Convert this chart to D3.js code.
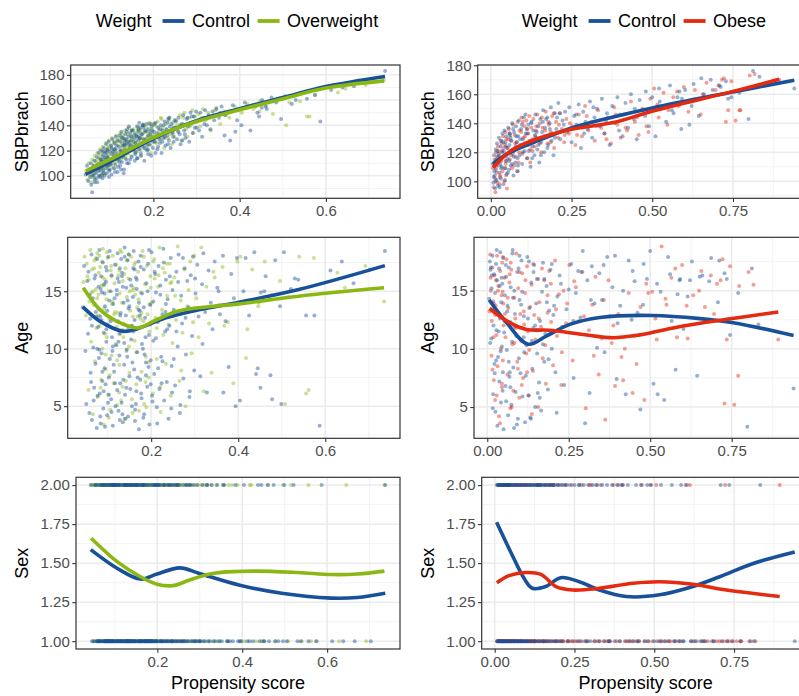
<!DOCTYPE html>
<html>
<head>
<meta charset="utf-8">
<script src="https://cdn.jsdelivr.net/npm/d3@7"></script>
<style>
  body { margin: 0; background: #ffffff; }
  svg { display: block; }
  text { font-family: "Liberation Sans", Arial, Helvetica, sans-serif; }
</style>
</head>
<body>
<svg id="chart" width="799" height="696"></svg>
<script>
// Each subject: [propensity score, SBPbrach, Age, Sex]

// Left column: Control vs Overweight
const leftControl = [
  [0.043,101,13.6,2],[0.046,108,17.2,1],[0.049,96,9.8,1],[0.051,103,5.2,2],[0.053,99,15.9,1],[0.055,110,11.3,2],
  [0.056,93,16.7,2],[0.058,87,4.4,1],[0.060,105,12.6,1],[0.061,100,7.9,2],[0.063,112,18.2,1],[0.064,97,3.8,1],
  [0.066,107,14.4,2],[0.067,102,10.1,1],[0.069,115,6.6,2],[0.070,95,16.1,1],[0.072,109,8.7,1],[0.073,118,13.2,2],
  [0.075,104,3.1,1],[0.076,99,17.8,2],[0.077,113,5.9,1],[0.078,106,11.9,1],[0.079,120,15.4,2],[0.080,101,9.2,1],
  [0.081,111,18.6,2],[0.082,98,6.1,1],[0.083,116,12.8,1],[0.084,104,3.5,2],[0.085,122,16.3,1],[0.086,109,9.6,2],
  [0.087,100,14.9,1],[0.088,118,7.2,1],[0.089,113,17.5,2],[0.090,106,4.8,1],[0.091,125,11.4,2],[0.092,102,15.6,1],
  [0.093,115,8.3,1],[0.094,120,13.7,2],[0.095,108,6.9,1],[0.096,127,17.1,2],[0.097,112,10.6,1],[0.098,104,16.8,2],
  [0.099,119,4.2,1],[0.100,110,12.1,1],[0.102,124,18.0,2],[0.103,101,7.5,1],[0.104,117,14.2,2],[0.105,129,9.1,1],
  [0.107,113,15.0,1],[0.108,106,5.6,2],[0.109,121,16.4,1],[0.110,126,11.0,2],[0.112,109,3.3,1],[0.113,131,13.9,2],
  [0.115,118,8.0,1],[0.117,103,17.3,1],
  [0.120,123,10.3,2],[0.121,114,14.7,1],[0.122,132,6.4,1],[0.123,108,18.3,2],[0.124,127,12.4,1],[0.125,119,4.6,2],
  [0.126,135,15.8,1],[0.127,111,9.4,1],[0.128,124,17.0,2],[0.129,130,7.0,1],[0.130,116,13.1,2],[0.132,105,5.3,1],
  [0.133,128,16.6,1],[0.134,121,11.6,2],[0.135,133,3.6,1],[0.137,113,14.0,2],[0.138,126,8.6,1],[0.139,137,18.8,1],
  [0.140,118,6.0,2],[0.142,131,12.9,1],[0.143,110,15.3,2],[0.144,125,9.9,1],[0.146,134,17.7,2],[0.147,120,4.1,1],
  [0.148,128,13.5,1],[0.150,115,7.6,2],[0.152,136,16.0,1],[0.154,123,10.8,2],[0.156,130,5.0,1],[0.158,117,14.5,1],
  [0.160,132,18.5,2],[0.161,124,8.2,1],[0.162,139,12.5,1],[0.163,114,4.7,2],[0.165,128,16.2,1],[0.166,135,6.3,2],
  [0.167,121,15.2,1],[0.168,130,9.7,1],[0.170,138,11.8,2],[0.171,118,17.6,1],[0.172,126,3.0,2],[0.174,133,13.3,1],
  [0.175,140,7.3,1],[0.176,123,18.1,2],[0.178,129,5.7,1],[0.179,112,14.8,2],[0.181,136,10.0,1],[0.183,127,16.9,1],
  [0.184,141,4.3,2],[0.186,120,12.7,1],[0.188,132,8.8,2],[0.189,137,15.7,1],[0.191,125,6.7,1],[0.193,134,17.4,2],
  [0.195,116,11.2,1],[0.196,139,3.4,2],[0.198,130,13.8,1],[0.199,122,9.0,1],
  [0.201,135,18.4,2],[0.203,127,5.4,1],[0.205,142,14.1,1],[0.207,131,7.8,2],[0.209,121,16.5,1],[0.211,138,10.9,1],
  [0.213,133,4.9,2],[0.215,126,12.3,1],[0.217,140,17.2,2],[0.219,118,6.5,1],[0.221,136,15.5,1],[0.223,130,9.3,2],
  [0.226,143,13.0,1],[0.228,124,18.7,1],[0.230,137,5.5,2],[0.232,132,11.5,1],[0.234,145,16.0,2],[0.236,128,7.1,1],
  [0.238,139,14.3,1],[0.240,122,3.9,2],[0.242,141,12.0,1],[0.245,134,17.9,2],[0.247,127,8.5,1],[0.249,144,15.1,1],
  [0.252,138,13.4,2],[0.255,129,6.8,1],[0.258,146,16.7,1],[0.261,133,10.2,2],[0.263,125,18.2,1],[0.266,141,4.4,1],
  [0.269,148,14.6,2],[0.271,136,12.2,1],[0.274,130,7.4,1],[0.277,145,17.0,2],[0.280,139,9.5,1],[0.283,127,15.9,1],
  [0.286,150,13.6,2],[0.288,142,5.8,1],[0.291,134,16.4,1],[0.294,147,11.1,2],[0.296,138,18.0,1],[0.299,151,8.1,1],
  [0.302,143,14.8,1],[0.306,136,17.3,2],[0.309,150,12.8,1],[0.313,131,7.6,1],[0.317,146,15.6,2],[0.320,152,18.3,1],
  [0.324,140,13.2,1],[0.328,148,6.2,2],[0.332,137,16.8,1],[0.337,151,14.0,1],[0.341,144,11.7,2],[0.346,153,17.6,1],
  [0.352,146,15.3,1],[0.358,155,13.0,2],[0.365,132,18.1,1],[0.371,150,12.4,1],[0.378,128,8.4,1],[0.384,156,16.5,2],
  [0.390,135,14.4,1],[0.397,153,17.9,1],[0.404,140,5.5,2],[0.412,158,15.0,1],[0.425,136,12.9,1],[0.437,155,18.4,2],
  [0.452,160,14.9,1],[0.463,153,16.3,1],[0.474,162,7.7,2],[0.485,158,17.7,1],[0.496,145,13.7,1],[0.505,163,18.4,1],
  [0.521,157,15.2,2],[0.538,165,16.0,1],[0.556,161,12.9,1],[0.587,143,3.3,2],
  [0.612,168,16.8,1],[0.638,170,17.6,1],[0.665,171,15.7,1],[0.703,175,16.9,1],[0.737,183,18.5,2],
  [0.118,107,5.0,2],[0.064,95,12.0,1],[0.141,127,3.9,1],[0.093,121,14.8,2],[0.177,138,6.1,1],[0.205,118,10.7,2],
  [0.131,102,17.8,1],[0.088,111,8.0,1],[0.156,133,12.0,2],[0.072,104,16.4,1],[0.224,140,7.0,1],[0.109,116,4.5,2],
  [0.185,124,9.5,1],[0.146,113,14.2,1],[0.097,99,11.7,2],[0.262,140,15.8,1],[0.163,131,3.7,1],[0.123,120,16.1,2],
  [0.081,107,9.9,1],[0.199,127,6.9,2],[0.138,135,10.5,1],[0.059,101,14.7,1],[0.246,131,4.8,2],[0.171,116,13.4,1],
  [0.105,112,18.5,1],[0.216,137,8.3,2],[0.152,120,6.5,1],[0.086,115,12.5,1],[0.192,141,15.0,2],[0.127,130,11.3,1],
  [0.234,125,13.9,1],[0.068,98,5.5,2],[0.159,126,17.0,1],[0.114,124,8.6,1],[0.279,146,12.7,2],[0.182,129,4.0,1],
  [0.099,105,13.3,1],[0.136,119,7.3,2],[0.208,134,16.7,1],[0.076,110,10.0,1],[0.165,137,5.2,2],[0.121,111,15.1,1],
  [0.252,143,9.1,1],[0.149,131,18.2,2],[0.091,118,6.3,1],[0.187,121,11.0,1],[0.229,135,17.5,2],[0.111,103,9.8,1],
  [0.172,133,14.0,1],[0.134,124,4.3,2],[0.084,102,15.2,1],[0.197,136,12.1,1],[0.318,141,10.4,2],[0.157,112,8.8,1],
  [0.243,137,16.3,1],[0.103,122,6.0,2],[0.129,115,12.9,1],[0.214,129,3.5,1],[0.167,142,16.0,2],[0.079,113,13.5,1],
  [0.145,122,9.3,1],[0.273,133,17.9,2],[0.188,117,7.7,1],[0.116,128,14.4,1],[0.237,146,11.7,2],[0.094,108,3.2,1],
  [0.174,125,12.9,1],[0.143,139,6.6,2],[0.211,123,14.9,1],[0.062,108,7.1,1],[0.154,127,15.5,2],[0.125,105,10.6,1],
  [0.289,147,6.3,1],[0.195,131,18.6,2],[0.107,119,12.4,1],[0.133,125,16.3,1],[0.226,131,8.9,2],[0.083,119,4.1,1],
  [0.179,122,10.4,1],[0.150,136,13.7,2],[0.258,135,11.5,1],[0.117,113,7.0,1],[0.202,141,5.9,2],[0.139,110,18.0,1],
  [0.169,130,7.5,1],[0.096,114,15.8,2],[0.301,138,16.1,1],[0.183,135,13.6,1],[0.128,117,3.8,2],[0.221,127,14.7,1],
  [0.159,119,11.5,1],[0.074,100,12.8,2],[0.194,128,8.4,1],[0.135,129,15.4,1],[0.248,138,6.2,2],[0.112,121,10.2,1],
  [0.176,140,17.1,1],[0.101,109,5.3,2],[0.233,142,13.2,1],[0.148,124,11.9,1],[0.267,128,5.1,2],[0.162,114,16.9,1],
  [0.441,150,7.8,1],[0.445,147,8.3,2],[0.451,154,6.6,1],[0.394,144,5.0,1],[0.478,159,5.6,1],[0.499,161,5.2,2],
  [0.366,148,6.2,1],[0.355,150,15.0,2],[0.417,155,17.9,1],[0.460,155,15.0,2],[0.530,160,16.1,1],[0.575,164,12.9,1]
];

const leftOverweight = [
  [0.044,104,15.8,2],[0.047,97,18.0,2],[0.050,110,12.9,1],[0.052,101,17.4,2],[0.054,106,16.3,2],[0.056,95,6.4,1],
  [0.058,113,14.1,2],[0.060,108,18.6,1],[0.062,99,10.6,2],[0.064,116,16.9,2],[0.066,103,4.3,1],[0.068,111,13.8,2],
  [0.070,118,17.7,1],[0.071,106,8.9,2],[0.073,114,15.2,2],[0.074,100,11.8,1],[0.076,121,18.3,2],[0.077,109,5.8,1],
  [0.079,117,14.7,2],[0.080,104,16.6,1],
  [0.082,113,12.0,2],[0.083,123,17.1,1],[0.085,107,7.3,2],[0.086,119,15.5,2],[0.088,102,10.0,1],[0.089,126,18.7,2],
  [0.091,115,3.4,1],[0.092,110,13.5,2],[0.094,122,16.0,1],[0.095,105,8.2,2],[0.097,128,14.3,2],[0.098,117,11.0,1],
  [0.100,112,17.9,2],[0.101,124,6.0,1],[0.103,108,15.0,2],[0.104,130,12.6,2],[0.106,119,4.7,1],[0.107,114,16.8,2],
  [0.109,126,9.4,1],[0.110,106,13.9,2],[0.112,121,18.1,2],[0.114,132,7.0,1],[0.116,116,15.7,2],[0.118,124,10.4,1],
  [0.120,128,17.3,2],[0.122,112,5.1,1],[0.123,134,13.1,2],[0.125,121,16.4,1],[0.127,126,8.6,2],[0.128,117,14.8,2],
  [0.130,131,11.3,1],[0.132,124,18.4,2],[0.134,136,6.7,1],[0.135,114,15.9,2],[0.137,129,12.2,1],[0.139,122,3.9,2],
  [0.141,133,17.0,2],[0.143,119,9.8,1],[0.144,138,14.5,2],[0.146,127,11.6,1],[0.148,116,16.1,2],[0.150,131,7.9,2],
  [0.152,125,13.3,1],[0.154,137,18.0,2],[0.156,121,5.6,1],[0.158,134,12.8,2],
  [0.160,128,15.3,2],[0.162,119,10.7,1],[0.164,139,17.5,2],[0.166,132,6.9,1],[0.168,124,13.6,2],[0.170,136,16.7,1],
  [0.172,116,4.6,2],[0.174,130,11.9,1],[0.176,141,14.9,2],[0.178,127,8.0,2],[0.180,135,18.5,1],[0.182,121,12.4,2],
  [0.184,138,5.2,1],[0.186,131,15.6,2],[0.188,125,9.3,1],[0.190,142,17.2,2],[0.192,133,13.0,1],[0.194,118,7.5,2],
  [0.196,137,11.5,1],[0.198,129,16.3,2],
  [0.201,140,14.0,2],[0.204,132,6.1,1],[0.207,126,17.8,2],[0.210,143,12.7,1],[0.213,136,9.1,2],[0.216,129,15.4,1],
  [0.219,145,18.8,2],[0.222,134,4.5,1],[0.225,122,13.4,2],[0.228,141,11.2,1],[0.231,137,16.6,2],[0.234,130,8.7,1],
  [0.237,146,14.6,2],[0.240,133,12.1,1],[0.243,125,17.4,2],[0.245,142,5.9,1],[0.247,138,15.8,2],[0.249,131,10.5,1],
  [0.253,144,16.2,2],[0.257,135,12.5,1],[0.261,148,18.9,2],[0.265,128,7.2,1],[0.268,141,14.2,2],[0.272,150,11.4,1],
  [0.276,137,16.9,2],[0.279,131,5.0,1],[0.283,146,13.7,2],[0.286,140,15.1,1],[0.290,152,17.6,2],[0.293,134,9.6,1],
  [0.296,147,12.3,2],[0.299,143,18.1,1],
  [0.304,149,14.4,2],[0.309,139,11.0,1],[0.315,153,18.8,2],[0.321,144,6.3,1],[0.327,150,15.4,2],[0.333,136,12.2,1],
  [0.339,148,7.9,2],[0.346,154,16.2,1],[0.355,141,13.8,2],[0.364,151,17.1,1],[0.376,146,12.3,2],[0.389,155,7.0,2],
  [0.405,150,18.0,1],[0.418,157,9.2,2],[0.432,153,16.9,1],[0.447,159,14.0,1],[0.461,156,17.6,2],[0.477,149,14.7,1],
  [0.496,161,15.9,2],[0.508,140,5.2,1],[0.515,158,14.5,2],
  [0.556,147,6.1,2],[0.562,147,6.4,1],[0.574,164,17.9,1],[0.628,166,16.6,1],[0.645,169,15.3,2],[0.692,172,17.2,1],
  [0.735,176,14.1,2],
  [0.087,113,17.6,2],[0.131,120,5.5,1],[0.063,102,14.9,2],[0.176,134,12.6,1],[0.109,110,16.3,2],[0.148,132,18.2,1],
  [0.221,138,6.7,2],[0.094,116,11.3,1],[0.069,109,17.0,2],[0.158,126,15.1,1],[0.122,117,9.0,2],[0.196,141,13.9,1],
  [0.079,111,12.9,2],[0.138,129,16.5,1],[0.255,140,14.6,2],[0.103,121,4.0,1],[0.183,127,18.0,2],[0.117,127,13.2,1],
  [0.213,131,11.8,2],[0.057,99,16.0,1],[0.166,137,9.7,2],[0.091,108,15.5,1],[0.142,124,7.2,2],[0.236,144,17.4,1],
  [0.111,118,14.1,2],[0.189,135,4.9,1],[0.073,107,17.9,2],[0.154,123,12.0,1],[0.127,133,16.8,2],[0.269,146,8.1,1],
  [0.098,123,18.4,2],[0.171,129,14.3,1],[0.136,116,11.0,2],[0.208,139,16.1,1],[0.084,105,6.6,2],[0.161,131,17.3,1],
  [0.115,112,13.0,2],[0.194,124,8.8,1],[0.244,134,15.7,2],[0.067,112,15.0,1],[0.149,136,10.2,2],[0.129,123,18.6,1],
  [0.178,140,13.1,2],[0.105,114,7.7,1],[0.227,130,17.0,2],[0.089,120,16.2,1],[0.157,118,4.4,2],[0.199,133,15.3,1],
  [0.121,130,11.9,2],[0.076,115,14.4,1],[0.144,127,17.7,2],[0.284,139,13.3,1],[0.169,121,12.8,2],[0.095,111,9.5,1],
  [0.217,146,16.4,2],[0.133,126,14.0,1],[0.187,131,7.1,2],[0.108,127,17.2,1],[0.251,137,12.9,2],[0.081,100,18.1,1],
  [0.163,135,14.7,2],[0.126,114,6.2,1],[0.205,127,17.6,2],[0.151,129,15.0,1],[0.311,146,13.5,2],[0.343,152,16.7,1],
  [0.368,148,12.0,2],[0.398,152,17.6,1],[0.421,155,11.7,2],[0.446,151,13.7,1],[0.540,159,18.0,1]
];

// Right column: Control vs Obese
const rightControl = [
  [0.006,112,14.3,2],[0.008,99,17.5,1],[0.010,118,16.8,2],[0.012,104,10.9,2],[0.013,95,15.2,1],[0.015,122,13.4,2],
  [0.016,108,18.0,2],[0.018,101,6.1,1],[0.019,126,12.0,2],[0.021,113,16.4,1],[0.022,97,8.7,2],[0.024,119,14.8,2],
  [0.025,130,4.6,1],[0.027,106,17.3,2],[0.028,115,11.6,1],[0.030,124,15.9,2],[0.031,102,3.4,2],[0.033,128,9.3,1],
  [0.034,110,13.1,2],[0.036,133,16.9,1],[0.037,117,7.2,2],[0.039,98,12.6,1],[0.040,121,18.3,2],[0.042,135,5.4,1],
  [0.043,109,14.0,2],[0.045,127,10.2,1],[0.046,114,15.6,2],[0.048,131,8.0,1],[0.049,105,17.8,2],[0.050,123,3.1,1],
  [0.052,116,11.4,2],[0.054,137,14.6,1],[0.056,108,6.8,2],[0.058,125,16.2,1],[0.060,132,9.9,2],[0.062,111,13.7,1],
  [0.064,128,4.3,2],[0.066,140,17.0,1],[0.068,119,7.6,2],[0.070,104,12.3,1],[0.072,134,15.3,2],[0.074,122,5.2,1],
  [0.076,113,10.6,2],[0.078,138,18.5,1],[0.080,127,8.4,2],[0.082,107,3.2,1],[0.085,131,13.0,2],[0.087,142,6.3,1],
  [0.089,118,11.1,2],[0.092,125,16.6,1],[0.094,136,4.0,2],[0.097,112,9.2,1],[0.099,129,14.2,2],[0.102,144,7.9,1],
  [0.105,121,17.6,2],[0.108,133,5.9,1],[0.112,116,12.8,2],[0.116,139,3.7,1],
  [0.120,128,10.3,2],[0.123,110,17.9,1],[0.126,141,6.0,2],[0.129,124,13.5,1],[0.132,135,4.1,2],[0.135,118,15.7,1],
  [0.138,146,8.3,2],[0.141,130,11.8,1],[0.144,122,17.2,2],[0.147,138,5.0,1],[0.150,113,13.9,2],[0.153,143,9.6,1],
  [0.156,127,16.0,2],[0.159,134,7.1,1],[0.162,149,12.4,2],[0.165,120,4.7,1],[0.168,137,14.9,2],[0.171,131,17.4,1],
  [0.175,144,8.9,2],[0.178,125,11.3,1],[0.182,140,15.4,2],[0.186,151,6.5,1],[0.190,133,13.3,2],[0.194,118,16.8,1],
  [0.198,147,10.0,2],[0.203,136,12.9,1],[0.209,154,8.0,2],[0.215,129,14.5,1],[0.222,142,16.3,2],[0.230,148,11.9,1],
  [0.236,134,6.9,2],[0.243,151,13.4,1],[0.250,127,15.1,2],[0.258,145,17.3,1],[0.265,139,7.5,2],[0.272,153,14.8,1],
  [0.279,123,16.7,2],[0.286,148,12.7,1],[0.293,141,18.4,2],[0.300,136,3.6,1],[0.307,155,15.9,2],[0.314,130,6.2,1],
  [0.321,144,17.1,2],[0.329,150,13.9,1],[0.337,138,10.1,2],[0.344,157,16.5,1],[0.352,133,14.2,2],[0.360,147,9.7,1],
  [0.368,125,17.9,2],[0.376,152,12.8,1],[0.384,140,15.3,2],[0.392,158,18.0,1],[0.400,146,12.2,2],[0.408,131,13.7,1],
  [0.417,154,15.0,2],[0.425,137,6.1,1],[0.434,160,17.6,1],[0.443,143,12.5,2],
  [0.452,129,15.8,1],[0.461,156,13.1,2],[0.470,149,4.8,1],[0.480,162,17.3,1],[0.490,138,16.0,2],[0.500,158,18.4,1],
  [0.510,131,7.0,1],[0.521,164,15.6,2],[0.532,152,14.9,1],[0.543,141,5.6,1],[0.555,166,17.9,2],[0.566,147,12.4,1],
  [0.578,158,8.2,1],[0.590,136,15.9,1],[0.602,163,11.7,2],[0.615,139,14.5,1],[0.628,167,17.5,1],[0.644,145,7.7,1],
  [0.660,160,16.3,1],[0.681,170,15.8,1],
  [0.712,165,17.6,1],[0.728,169,16.5,1],[0.745,158,11.2,1],[0.770,161,14.8,1],[0.798,143,3.3,1],[0.812,176,16.9,1],
  [0.832,172,12.1,2],[0.940,164,6.6,1],
  [0.011,107,17.0,2],[0.035,120,11.5,1],[0.058,133,5.5,2],[0.083,116,15.0,1],[0.027,96,9.0,2],[0.104,126,13.8,1],
  [0.142,134,16.6,2],[0.017,115,4.9,1],[0.066,112,8.9,2],[0.125,140,12.6,1],[0.044,101,16.1,2],[0.091,129,3.5,1],
  [0.171,143,10.4,2],[0.020,121,13.9,1],[0.077,124,18.2,2],[0.155,118,6.2,1],[0.038,127,15.4,2],[0.113,133,9.7,1],
  [0.198,130,17.3,2],[0.053,106,12.4,1],[0.134,127,4.0,2],[0.009,103,10.5,1],[0.096,139,16.9,2],[0.071,117,6.7,1],
  [0.183,136,14.0,2],[0.029,112,18.5,1],[0.118,121,7.7,2],[0.061,130,13.2,1],[0.161,141,5.8,2],[0.041,118,9.8,1],
  [0.226,139,15.6,2],[0.084,111,11.9,1],[0.107,146,14.9,2],[0.014,100,16.3,1],[0.147,125,12.0,2],[0.069,136,8.0,1],
  [0.213,147,4.5,2],[0.032,109,13.0,1],[0.128,116,17.5,2],[0.188,128,9.1,1],[0.047,124,6.4,2],[0.099,120,18.0,1],
  [0.264,146,12.4,2],[0.079,131,14.4,1],[0.137,132,10.7,2],[0.023,117,7.9,1],[0.175,123,16.0,2],[0.057,114,17.2,1],
  [0.112,136,11.0,2],[0.205,144,13.7,1],[0.289,133,16.6,1],[0.318,151,14.2,2],[0.357,142,17.2,1],[0.397,135,7.4,2],
  [0.446,150,16.7,1],[0.478,145,13.8,2],[0.523,155,6.1,1],[0.561,149,16.4,1],[0.584,162,14.7,2],[0.622,152,15.9,1],
  [0.687,163,17.8,1],[0.735,157,16.0,2],[0.652,171,16.2,1],[0.708,166,14.0,2],[0.592,157,16.0,1]
];

const rightObese = [
  [0.007,109,13.2,1],[0.009,96,18.1,1],[0.011,115,15.0,2],[0.013,102,9.4,1],[0.014,92.5,12.4,1],[0.016,120,17.0,2],
  [0.018,106,14.1,1],[0.020,99,7.3,2],[0.022,124,16.3,1],[0.024,111,5.6,1],[0.026,118,13.7,2],[0.028,103,11.2,1],
  [0.030,128,18.0,1],[0.032,114,8.5,2],[0.034,121,15.4,1],[0.036,107,4.2,1],[0.038,131,12.8,2],[0.040,117,16.7,1],
  [0.042,100,10.0,1],[0.044,125,14.6,2],[0.045,134,6.7,1],[0.046,112,17.4,1],[0.047,104,14.9,2],[0.048,129,9.0,1],
  [0.049,119,13.9,1],[0.050,95,12.0,2],
  [0.053,123,16.1,1],[0.056,136,11.0,1],[0.059,115,17.7,2],[0.062,128,7.8,1],[0.065,109,13.5,1],[0.068,139,15.7,2],
  [0.071,121,4.9,1],[0.074,132,16.8,1],[0.077,117,10.4,2],[0.080,127,6.4,1],[0.083,141,14.4,1],[0.086,113,12.6,2],
  [0.089,135,18.2,1],[0.092,124,8.9,1],[0.095,144,15.2,2],[0.098,119,5.8,1],[0.101,130,13.0,1],[0.104,138,10.7,2],
  [0.107,126,16.5,1],[0.110,142,7.5,1],[0.113,116,12.1,2],[0.116,133,14.8,1],[0.119,145,9.6,1],[0.122,122,17.1,2],
  [0.125,137,11.5,1],[0.128,129,6.0,1],
  [0.132,143,13.6,2],[0.136,124,15.5,1],[0.140,135,8.1,1],[0.144,146,12.9,2],[0.148,128,10.8,1],[0.152,140,16.0,1],
  [0.156,120,5.0,2],[0.160,137,14.0,1],[0.165,131,11.9,1],[0.170,148,9.2,2],[0.175,126,15.9,1],[0.180,139,7.0,1],
  [0.185,134,13.1,2],[0.190,145,16.7,1],[0.196,123,12.3,1],[0.202,141,8.6,2],[0.208,130,17.6,1],[0.214,147,11.1,1],
  [0.220,136,14.7,2],[0.227,127,6.9,1],[0.234,143,15.0,1],[0.242,133,12.2,2],
  [0.252,138,17.2,1],[0.262,125,9.0,1],[0.272,146,15.3,2],[0.282,131,12.4,1],[0.292,152,16.6,1],[0.302,135,4.9,2],
  [0.312,141,11.6,1],[0.322,128,13.8,1],[0.332,149,16.2,2],[0.342,137,7.8,1],[0.352,133,10.9,1],[0.362,144,3.9,1],
  [0.372,126,15.9,2],[0.382,151,10.5,1],[0.392,139,6.8,1],[0.402,130,13.0,2],[0.412,146,9.3,1],[0.422,135,10.0,1],
  [0.434,155,14.8,1],[0.446,141,6.2,1],[0.458,132,8.7,2],[0.470,150,13.6,1],[0.482,138,5.6,1],[0.494,157,14.8,1],
  [0.506,164,14.9,2],[0.520,144,10.8,1],[0.535,161,18.8,1],[0.550,149,13.8,1],[0.565,158,16.1,1],[0.582,152,11.0,1],
  [0.598,165,17.2,2],[0.615,155,10.9,1],[0.632,163,14.6,1],[0.650,146,15.0,1],[0.668,168,13.6,1],[0.686,159,16.3,1],
  [0.705,166,15.6,1],[0.722,171,17.7,2],[0.728,141,5.3,1],[0.735,149,10.8,1],[0.758,142,5.2,1],[0.770,149,7.7,1],
  [0.802,173,16.6,1],[0.893,170,10.8,2],
  [0.010,112,16.1,1],[0.029,104,6.0,2],[0.054,129,13.0,1],[0.072,111,17.4,1],[0.019,117,11.0,2],[0.094,134,8.3,1],
  [0.117,125,15.9,1],[0.039,123,3.6,2],[0.063,118,14.4,1],[0.141,138,17.3,1],[0.083,107,10.5,2],[0.027,98,15.9,1],
  [0.106,131,6.9,1],[0.158,144,12.6,2],[0.048,114,17.9,1],[0.129,121,9.9,1],[0.185,127,14.6,2],[0.075,126,5.0,1],
  [0.016,110,8.2,1],[0.099,141,16.6,2],[0.211,139,13.4,1],[0.058,133,12.3,1],[0.137,131,4.4,2],[0.033,126,15.0,1],
  [0.168,135,16.9,1],[0.088,120,11.8,2],[0.229,132,9.7,1],[0.112,136,13.2,1],[0.045,109,7.0,2],[0.152,126,11.6,1],
  [0.195,147,15.6,1],[0.069,122,16.4,2],[0.245,140,13.9,1],[0.122,113,8.0,1],[0.178,141,10.3,2],[0.024,121,12.9,1],
  [0.267,132,15.8,1],[0.297,145,12.8,2],[0.327,138,9.4,1],[0.358,129,14.2,1],[0.387,146,12.0,2],[0.417,137,7.3,1],
  [0.452,144,11.1,1],[0.488,134,15.6,2],[0.516,153,12.6,1],[0.547,139,14.3,1],[0.577,162,16.9,1],[0.612,148,13.7,2],
  [0.657,160,16.7,1],[0.696,163,13.0,1],[0.745,169,17.1,1],[0.716,170,15.9,1],[0.773,149,15.4,1],[0.817,174,15.5,1]
];

// Loess trend lines: [propensity score, fitted value]
const trendLeftControlSBP = [[0.043,101.3],[0.1,111.3],[0.2,129.5],[0.3,143.6],[0.4,153.2],[0.5,162],[0.6,170.7],[0.737,178.7]];
const trendLeftOverweightSBP = [[0.044,104],[0.1,113],[0.2,130.3],[0.3,143],[0.4,152.3],[0.5,161],[0.6,169.5],[0.735,175.2]];
const trendRightControlSBP = [[0.006,112.2],[0.06,120],[0.131,126.7],[0.25,136.8],[0.379,144.4],[0.5,150.6],[0.75,161.6],[0.94,169.7]];
const trendRightObeseSBP = [[0.007,109.4],[0.06,120.8],[0.131,128.3],[0.25,135.9],[0.379,140.5],[0.5,148.3],[0.75,162],[0.893,170.3]];

const trendLeftControlAge = [[0.043,13.64],[0.082,12.4],[0.135,11.52],[0.166,11.7],[0.234,12.69],[0.31,13.4],[0.402,14.05],[0.539,15.15],[0.737,17.23]];
const trendLeftOverweightAge = [[0.044,15.3],[0.082,13.4],[0.12,12.4],[0.169,11.8],[0.211,12.5],[0.265,13.3],[0.402,13.9],[0.539,14.57],[0.735,15.3]];
const trendRightControlAge = [[0.006,14.2],[0.058,12.3],[0.125,10.4],[0.181,11.1],[0.253,12.1],[0.345,12.7],[0.509,12.87],[0.653,12.6],[0.755,12.25],[0.94,11.15]];
const trendRightObeseAge = [[0.007,13.47],[0.069,12.25],[0.12,11.67],[0.191,11.6],[0.294,11.23],[0.386,10.95],[0.468,11.2],[0.601,11.96],[0.735,12.54],[0.893,13.17]];

const trendLeftControlSex = [[0.043,1.587],[0.106,1.466],[0.16,1.398],[0.199,1.43],[0.253,1.47],[0.299,1.434],[0.392,1.36],[0.493,1.307],[0.609,1.276],[0.671,1.28],[0.737,1.307]];
const trendLeftOverweightSex = [[0.044,1.66],[0.106,1.508],[0.16,1.413],[0.199,1.365],[0.237,1.356],[0.276,1.392],[0.33,1.434],[0.423,1.449],[0.532,1.44],[0.609,1.427],[0.671,1.43],[0.735,1.449]];
const trendRightControlSex = [[0.006,1.762],[0.055,1.551],[0.092,1.403],[0.118,1.339],[0.16,1.35],[0.207,1.407],[0.265,1.381],[0.328,1.328],[0.412,1.286],[0.517,1.297],[0.621,1.35],[0.705,1.413],[0.81,1.498],[0.94,1.572]];
const trendRightObeseSex = [[0.007,1.375],[0.045,1.42],[0.097,1.44],[0.145,1.428],[0.192,1.35],[0.244,1.328],[0.328,1.339],[0.433,1.371],[0.517,1.381],[0.621,1.365],[0.726,1.328],[0.893,1.286]];

// Axis breaks
const xTicksLeft = [0.2, 0.4, 0.6];
const xTicksRight = [0, 0.25, 0.5, 0.75];
const sbpTicks = [100, 120, 140, 160, 180];
const ageTicks = [5, 10, 15];
const sexTicks = [1, 1.25, 1.5, 1.75, 2];

const legendTitle = "Weight";
const xTitle = "Propensity score";

const COLORS = { Control: "#18509a", Overweight: "#8bb713", Obese: "#e42a10" };

const svg = d3.select("#chart");

function expand(ext) {
  const s = ext[1] - ext[0];
  return [ext[0] - 0.05 * s, ext[1] + 0.05 * s];
}

function minorBreaks(ticks, dom) {
  const step = ticks[1] - ticks[0];
  const ext = [ticks[0] - step, ...ticks, ticks[ticks.length - 1] + step];
  const out = [];
  for (let i = 0; i < ext.length - 1; i++) out.push((ext[i] + ext[i + 1]) / 2);
  return out.filter(v => v >= dom[0] && v <= dom[1]);
}

const variables = [
  { idx: 1, title: "SBPbrach", ticks: sbpTicks, fmt: d3.format("d") },
  { idx: 2, title: "Age", ticks: ageTicks, fmt: d3.format("d") },
  { idx: 3, title: "Sex", ticks: sexTicks, fmt: d3.format(".2f") }
];

const columns = [
  {
    groups: [
      { name: "Control", pts: leftControl, trends: [trendLeftControlSBP, trendLeftControlAge, trendLeftControlSex] },
      { name: "Overweight", pts: leftOverweight, trends: [trendLeftOverweightSBP, trendLeftOverweightAge, trendLeftOverweightSex] }
    ],
    xTicks: xTicksLeft, xFmt: d3.format(".1f"),
    titleX: 28, legendCx: 237,
    frames: [
      { x0: 70.7, x1: 400, y0: 65, y1: 198.3 },
      { x0: 67.7, x1: 400, y0: 237.3, y1: 438.3 },
      { x0: 76, x1: 400, y0: 477.3, y1: 649 }
    ]
  },
  {
    groups: [
      { name: "Control", pts: rightControl, trends: [trendRightControlSBP, trendRightControlAge, trendRightControlSex] },
      { name: "Obese", pts: rightObese, trends: [trendRightObeseSBP, trendRightObeseAge, trendRightObeseSex] }
    ],
    xTicks: xTicksRight, xFmt: d3.format(".2f"),
    titleX: 433.5, legendCx: 644,
    frames: [
      { x0: 477.7, x1: 809.4, y0: 65, y1: 198.3 },
      { x0: 474, x1: 808.8, y0: 237.3, y1: 438.3 },
      { x0: 481.7, x1: 809.6, y0: 477.3, y1: 649 }
    ]
  }
];

const TICK_FONT = 15;
const TITLE_FONT = 18;

columns.forEach(col => {
  const allPts = col.groups.flatMap(g => g.pts);
  const xDom = expand(d3.extent(allPts, d => d[0]));

  variables.forEach((v, row) => {
    const f = col.frames[row];
    const yDom = expand(d3.extent(allPts, d => d[v.idx]));
    const x = d3.scaleLinear().domain(xDom).range([f.x0, f.x1]);
    const y = d3.scaleLinear().domain(yDom).range([f.y1, f.y0]);
    const g = svg.append("g");

    // panel background grid
    const grid = g.append("g");
    minorBreaks(col.xTicks, xDom).forEach(t =>
      grid.append("line").attr("x1", x(t)).attr("x2", x(t)).attr("y1", f.y0).attr("y2", f.y1)
        .attr("stroke", "#f2f2f2").attr("stroke-width", 0.9));
    minorBreaks(v.ticks, yDom).forEach(t =>
      grid.append("line").attr("x1", f.x0).attr("x2", f.x1).attr("y1", y(t)).attr("y2", y(t))
        .attr("stroke", "#f2f2f2").attr("stroke-width", 0.9));
    col.xTicks.forEach(t =>
      grid.append("line").attr("x1", x(t)).attr("x2", x(t)).attr("y1", f.y0).attr("y2", f.y1)
        .attr("stroke", "#ebebeb").attr("stroke-width", 1.5));
    v.ticks.forEach(t =>
      grid.append("line").attr("x1", f.x0).attr("x2", f.x1).attr("y1", y(t)).attr("y2", y(t))
        .attr("stroke", "#ebebeb").attr("stroke-width", 1.5));

    // subject points: comparison group underneath, controls on top
    col.groups.slice().reverse().forEach(gr => {
      g.append("g").selectAll("circle").data(gr.pts).join("circle")
        .attr("cx", d => x(d[0])).attr("cy", d => y(d[v.idx])).attr("r", 2.0)
        .attr("fill", COLORS[gr.name]).attr("fill-opacity", 0.45);
    });

    // loess trend lines
    const line = d3.line().x(d => x(d[0])).y(d => y(d[1])).curve(d3.curveCatmullRom.alpha(0.5));
    col.groups.forEach(gr => {
      g.append("path").datum(gr.trends[row]).attr("d", line)
        .attr("fill", "none").attr("stroke", COLORS[gr.name]).attr("stroke-width", 3.6)
        .attr("stroke-linecap", "butt").attr("stroke-linejoin", "round");
    });

    // panel border
    g.append("rect").attr("x", f.x0).attr("y", f.y0).attr("width", f.x1 - f.x0).attr("height", f.y1 - f.y0)
      .attr("fill", "none").attr("stroke", "#333333").attr("stroke-width", 1.2);

    // axes
    const xa = g.append("g").attr("transform", `translate(0,${f.y1})`)
      .call(d3.axisBottom(x).tickValues(col.xTicks).tickFormat(col.xFmt).tickSizeInner(3.7).tickSizeOuter(0).tickPadding(3.5));
    const ya = g.append("g").attr("transform", `translate(${f.x0},0)`)
      .call(d3.axisLeft(y).tickValues(v.ticks).tickFormat(v.fmt).tickSizeInner(3.7).tickSizeOuter(0).tickPadding(2.5));
    [xa, ya].forEach(a => {
      a.select(".domain").remove();
      a.selectAll(".tick line").attr("stroke", "#333333").attr("stroke-width", 1.1);
      a.selectAll(".tick text").attr("fill", "#4d4d4d").style("font-size", TICK_FONT + "px")
        .style("font-family", '"Liberation Sans", Arial, sans-serif');
    });

    // y axis title
    svg.append("text")
      .attr("transform", `translate(${col.titleX},${(f.y0 + f.y1) / 2}) rotate(-90)`)
      .attr("text-anchor", "middle").style("font-size", TITLE_FONT + "px").attr("fill", "#000")
      .text(v.title);

    // x axis title under the bottom row
    if (row === 2) {
      svg.append("text").attr("x", (f.x0 + f.x1) / 2).attr("y", 689)
        .attr("text-anchor", "middle").style("font-size", TITLE_FONT + "px").attr("fill", "#000")
        .text(xTitle);
    }
  });

  // legend
  const lg = svg.append("g");
  let cursor = 0;
  const base = 27, keyY = 21;
  const t0 = lg.append("text").attr("x", cursor).attr("y", base).style("font-size", "18px").text(legendTitle);
  cursor += t0.node().getComputedTextLength() + 11;
  col.groups.forEach((gr, i) => {
    lg.append("line").attr("x1", cursor).attr("x2", cursor + 22).attr("y1", keyY).attr("y2", keyY)
      .attr("stroke", COLORS[gr.name]).attr("stroke-width", 3.8);
    cursor += 22 + 7.5;
    const t = lg.append("text").attr("x", cursor).attr("y", base).style("font-size", "18px").text(gr.name);
    cursor += t.node().getComputedTextLength() + (i < col.groups.length - 1 ? 7.5 : 0);
  });
  lg.attr("transform", `translate(${col.legendCx - cursor / 2},0)`);
});
</script>
</body>
</html>
